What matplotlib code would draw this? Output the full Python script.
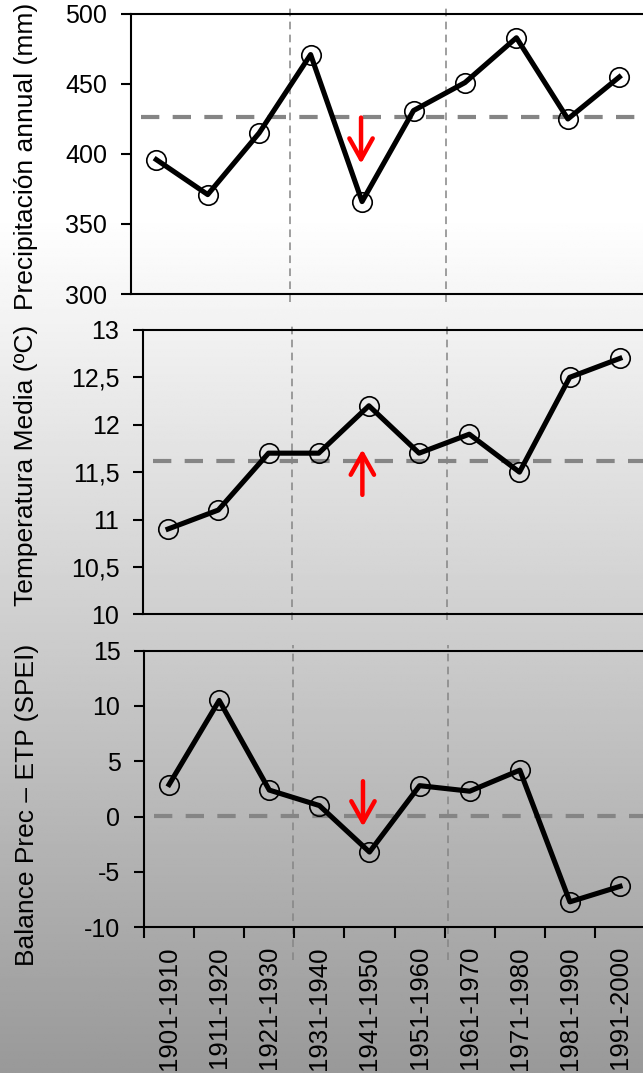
import numpy as np
import matplotlib

matplotlib.use("Agg")
import matplotlib.pyplot as plt
from matplotlib.ticker import FuncFormatter

plt.rcParams["font.family"] = ["Liberation Sans", "DejaVu Sans"]
plt.rcParams["axes.unicode_minus"] = False

# ---- data: decadal means 1901-2000 ----
DECADES = ["1901-1910", "1911-1920", "1921-1930", "1931-1940", "1941-1950",
           "1951-1960", "1961-1970", "1971-1980", "1981-1990", "1991-2000"]
PRECIP = [396, 371, 415, 471, 366, 431, 451, 483, 425, 455]
TEMP = [10.9, 11.1, 11.7, 11.7, 12.2, 11.7, 11.9, 11.5, 12.5, 12.7]
SPEI = [2.9, 10.5, 2.4, 1.0, -3.2, 2.8, 2.3, 4.2, -7.7, -6.3]

# long-term reference levels (dashed)
PRECIP_REF = 426.2
TEMP_REF = 11.62
SPEI_REF = 0.1

# red arrows: (x, tail, tip)
PRECIP_ARROW = (3.98, 426, 393)
TEMP_ARROW = (3.87, 11.26, 11.74)
SPEI_ARROW = (3.87, 3.2, -0.9)

GRAY = "#858585"


def comma(v, _pos):
    return f"{v:g}".replace(".", ",")


def panel(fig, rect, values, ref, ylim, yticks, ylabel, label_xy,
          breaks, vspan, arrow, show_x=False):
    ax = fig.add_axes(rect)
    ax.set_facecolor("none")
    x = np.arange(len(values))

    ax.hlines(ref, -0.3, 9.5, colors=GRAY, lw=3.0, linestyles=(0, (4.4, 3.2)),
              zorder=2)
    for b in breaks:
        ax.axvline(b, ymin=vspan[0], ymax=vspan[1], color=GRAY, lw=1.1,
                   linestyle=(0, (5, 3.5)), clip_on=False, zorder=1)

    ax.plot(x, values, color="black", lw=3.7, zorder=3)
    ax.plot(x, values, linestyle="none", marker="o", ms=14, mfc="none",
            mec="black", mew=1.2, zorder=4)

    ax.annotate("", xy=(arrow[0], arrow[2]), xytext=(arrow[0], arrow[1]),
                arrowprops=dict(arrowstyle="->,head_length=0.75,head_width=0.42",
                                color="red", lw=3.2, mutation_scale=20,
                                shrinkA=0, shrinkB=0), zorder=5)

    ax.set_xlim(-0.5, len(values) - 0.5)
    ax.set_ylim(*ylim)
    ax.set_yticks(yticks)
    ax.yaxis.set_major_formatter(FuncFormatter(comma))
    ax.tick_params(axis="y", direction="out", length=7, width=1.5, pad=10,
                   labelsize=18)

    if show_x:
        ax.set_xticks(np.arange(-0.5, len(values)))
        ax.set_xticklabels([])
        ax.set_xticks(x, minor=True)
        ax.set_xticklabels(DECADES, minor=True, rotation=90)
        ax.tick_params(axis="x", which="major", direction="out", length=8,
                       width=1.5)
        ax.tick_params(axis="x", which="minor", length=0, pad=13.5,
                       labelsize=18.5)
    else:
        ax.set_xticks([])

    for side in ("left", "bottom", "top"):
        ax.spines[side].set_linewidth(1.5)
    ax.spines["right"].set_visible(False)

    ax.set_ylabel(ylabel, fontsize=19)
    ax.yaxis.set_label_coords(*label_xy)
    return ax


fig = plt.figure(figsize=(6.43, 10.73), dpi=100)

# white-to-gray backdrop
bg = fig.add_axes([0, 0, 1, 1], zorder=-10)
bg.axis("off")
rows = np.linspace(0, 1, 512)
shade = np.where(rows < 0.2, 1.0, 1.0 - (rows - 0.2) / 0.8 * 0.40)
bg.imshow(np.tile(shade[:, None], (1, 4)), cmap="gray", vmin=0, vmax=1,
          aspect="auto", extent=[0, 1, 0, 1], origin="upper")

panel(fig, [0.2030, 0.7260, 0.8002, 0.2610], PRECIP, PRECIP_REF, (300, 500),
      [300, 350, 400, 450, 500], "Precipitación annual (mm)",
      (-0.18, 0.493), [2.59, 5.64], (-0.029, 1.032), PRECIP_ARROW)
panel(fig, [0.2224, 0.4275, 0.7807, 0.2650], TEMP, TEMP_REF, (10, 13),
      [10, 10.5, 11, 11.5, 12, 12.5, 13], "Temperatura Media (ºC)",
      (-0.209, 0.522), [2.47, 5.56], (-0.02, 1.025), TEMP_ARROW)
panel(fig, [0.2240, 0.1358, 0.7792, 0.2578], SPEI, SPEI_REF, (-10, 15),
      [-10, -5, 0, 5, 10, 15], "Balance Prec – ETP (SPEI)",
      (-0.209, 0.442), [2.47, 5.56], (-0.118, 1.02), SPEI_ARROW, show_x=True)

fig.savefig("out.png", dpi=100)
